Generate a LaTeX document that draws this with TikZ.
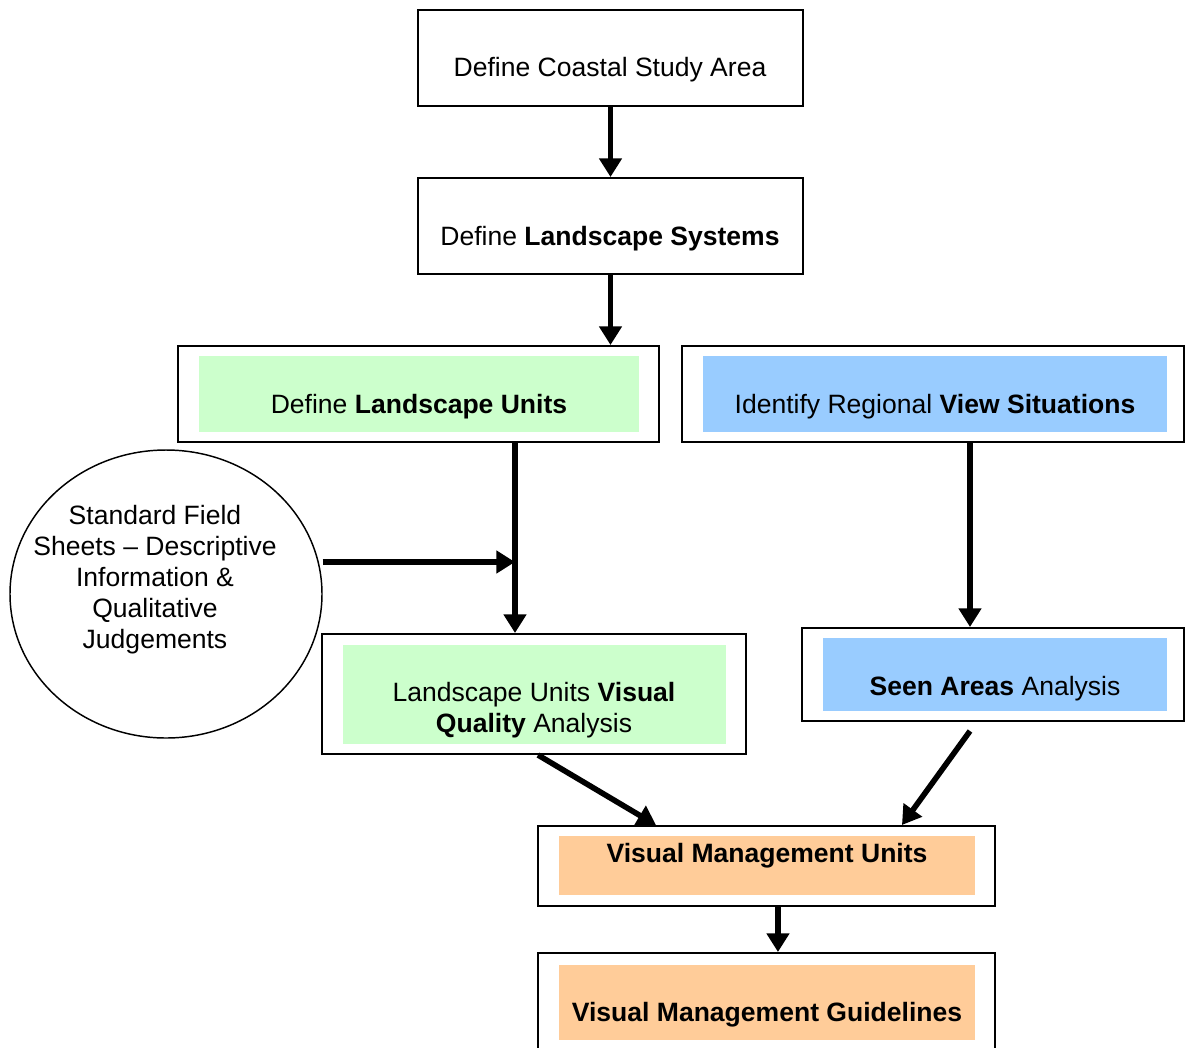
\documentclass[tikz,border=0pt]{standalone}
\usepackage{fontspec}
\setmainfont{Liberation Sans}
\usetikzlibrary{arrows.meta,shapes.geometric}

\definecolor{unitgreen}{HTML}{CCFFCC}
\definecolor{viewblue}{HTML}{99CCFF}
\definecolor{mgmtorange}{HTML}{FFCC99}

\tikzset{
  outerbox/.style={draw, line width=1.5pt, inner sep=0pt},
  fillbox/.style={inner sep=0pt, draw=none},
  steptext/.style={inner sep=0pt, align=center, font=\fontsize{19.9pt}{23.25pt}\selectfont},
  flowarrow/.style={line width=4.2pt, -{Triangle[length=14pt,width=16.5pt]}}
}

\begin{document}
\begin{tikzpicture}[x=0.75pt, y=-0.75pt]
      \useasboundingbox (0,0) rectangle (1186,1047);

      \node[outerbox, minimum width=288.75pt, minimum height=72pt] (coastal) at (610.5,58) {};
      \node[steptext] (coastaltext) at (610,70) {Define Coastal Study Area};

      \node[outerbox, minimum width=288.75pt, minimum height=72pt] (systems) at (610.5,226) {};
      \node[steptext] (systemstext) at (610,239) {Define \textbf{Landscape Systems}};

      \node[outerbox, minimum width=360.75pt, minimum height=72pt] (lunits) at (418.5,394) {};
      \node[fillbox, fill=unitgreen, minimum width=330pt, minimum height=57pt] (lunitsfill) at (419,394) {};
      \node[steptext] (lunitstext) at (419,407) {Define \textbf{Landscape Units}};

      \node[outerbox, minimum width=376.5pt, minimum height=72pt] (views) at (933,394) {};
      \node[fillbox, fill=viewblue, minimum width=348pt, minimum height=57pt] (viewsfill) at (935,394) {};
      \node[steptext] (viewstext) at (935,407) {Identify Regional \textbf{View Situations}};

      \node[draw, line width=1.1pt, ellipse, minimum width=234pt, minimum height=216pt, inner sep=0pt] (sheets) at (166,594) {};
      \node[steptext] (sheetstext) at (155,580) {Standard Field\\Sheets -- Descriptive\\Information \&\\Qualitative\\Judgements};

      \node[outerbox, minimum width=318pt, minimum height=90pt] (quality) at (534,694) {};
      \node[fillbox, fill=unitgreen, minimum width=287.25pt, minimum height=74.25pt] (qualityfill) at (534.5,694.5) {};
      \node[steptext] (qualitytext) at (534,710) {Landscape Units \textbf{Visual}\\\textbf{Quality} Analysis};

      \node[outerbox, minimum width=286.5pt, minimum height=69.75pt] (seen) at (993,674.5) {};
      \node[fillbox, fill=viewblue, minimum width=258pt, minimum height=54.75pt] (seenfill) at (995,674.5) {};
      \node[steptext] (seentext) at (995,689) {\textbf{Seen Areas} Analysis};

      \node[outerbox, minimum width=342.75pt, minimum height=60pt] (vmu) at (766.5,866) {};
      \node[fillbox, fill=mgmtorange, minimum width=312pt, minimum height=44.25pt] (vmufill) at (767,865.5) {};
      \node[steptext] (vmutext) at (767,856) {\textbf{Visual Management Units}};

      \node[outerbox, minimum width=342.75pt, minimum height=76.5pt] (vmg) at (766.5,1004) {};
      \node[fillbox, fill=mgmtorange, minimum width=312pt, minimum height=56.25pt] (vmgfill) at (767,1002.5) {};
      \node[steptext] (vmgtext) at (767,1015) {\textbf{Visual Management Guidelines}};

      \coordinate (merge) at (515,562);

      \draw[flowarrow] (coastal.south) -- (systems.north);
      \draw[flowarrow] (systems.south) -- (systems.south |- lunits.north);
      \draw[flowarrow] (lunits.south -| merge) -- (quality.north -| merge);
      \draw[flowarrow] (sheets.east |- merge) -- (merge);
      \draw[flowarrow] ([xshift=27.75pt]views.south) -- ([xshift=27.75pt]views.south |- seen.north);
      \draw[flowarrow] ([xshift=3pt]quality.south) -- ([xshift=-82.9pt]vmu.north);
      \draw[flowarrow] ([xshift=-17.25pt,yshift=-6.75pt]seen.south) -- ([xshift=101.6pt]vmu.north);
      \draw[flowarrow] ([xshift=8.6pt]vmu.south) -- ([xshift=8.6pt]vmu.south |- vmg.north);
\end{tikzpicture}
\end{document}
